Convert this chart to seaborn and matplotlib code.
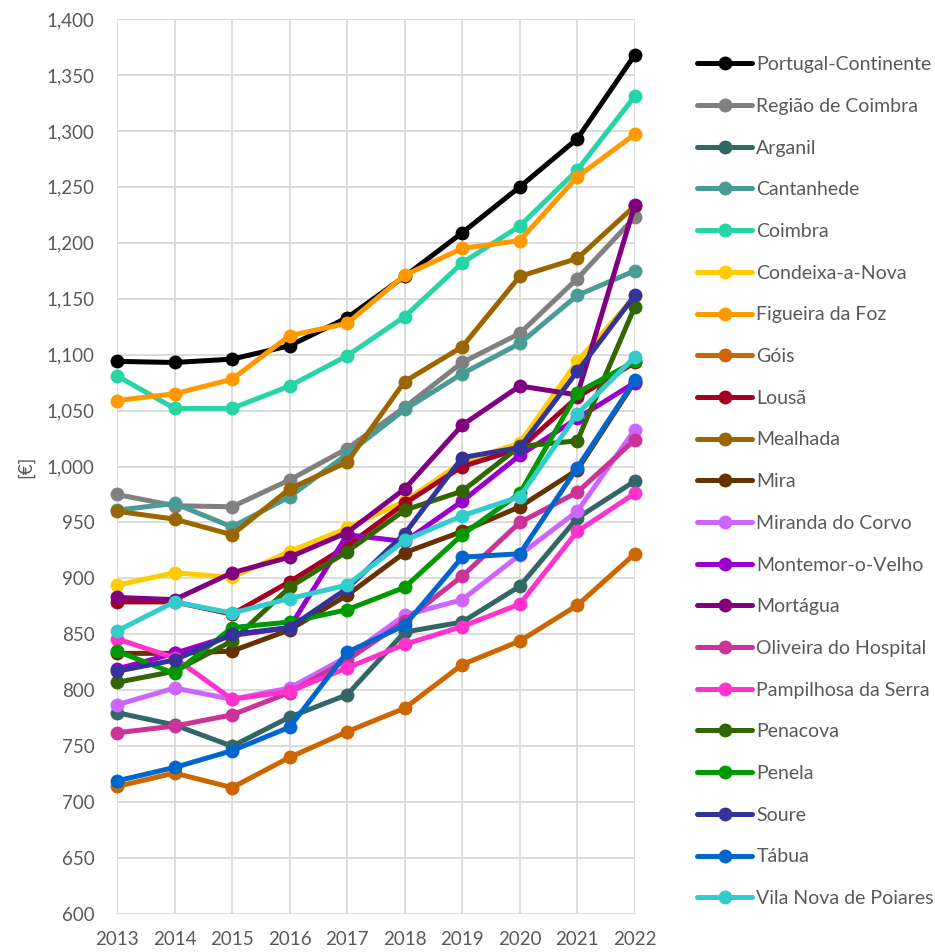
import pandas as pd
import numpy as np
import matplotlib.pyplot as plt
import seaborn as sns
from matplotlib.ticker import FuncFormatter

years = list(range(2013, 2023))

# valores (€)
portugal_continente = [1094, 1093, 1096, 1108, 1133, 1170, 1209, 1250, 1293, 1368]
regiao_coimbra = [975, 965, 964, 988, 1016, 1053, 1093, 1119, 1168, 1223]
arganil = [780, 769, 750, 776, 796, 852, 861, 893, 954, 987]
cantanhede = [961, 967, 946, 973, 1011, 1051, 1083, 1110, 1153, 1175]
coimbra = [1081, 1052, 1052, 1072, 1099, 1134, 1182, 1215, 1265, 1331]
condeixa = [894, 905, 901, 924, 945, 969, 1004, 1021, 1094, 1152]
figueira = [1059, 1065, 1078, 1117, 1128, 1171, 1195, 1202, 1259, 1297]
gois = [714, 726, 713, 740, 763, 784, 823, 844, 876, 922]
lousa = [879, 879, 868, 897, 929, 967, 1000, 1016, 1062, 1093]
mealhada = [960, 953, 939, 980, 1004, 1076, 1107, 1170, 1186, 1233]
mira = [833, 833, 835, 854, 885, 923, 942, 964, 997, 1076]
miranda = [787, 802, 792, 802, 830, 867, 881, 921, 960, 1033]
montemor = [819, 833, 849, 856, 939, 933, 969, 1010, 1043, 1075]
mortagua = [883, 881, 905, 919, 941, 980, 1037, 1072, 1064, 1234]
oliveira = [762, 768, 778, 798, 827, 862, 902, 950, 977, 1024]
pampilhosa = [846, 829, 792, 799, 820, 841, 857, 877, 942, 976]
penacova = [807, 817, 844, 892, 924, 961, 978, 1018, 1023, 1143]
penela = [835, 815, 856, 861, 872, 892, 939, 976, 1066, 1094]
soure = [817, 827, 850, 856, 891, 940, 1008, 1017, 1085, 1153]
tabua = [719, 731, 746, 767, 834, 858, 919, 922, 999, 1077]
poiares = [853, 879, 869, 882, 894, 934, 956, 973, 1047, 1098]

names = ['Portugal-Continente', 'Região de Coimbra', 'Arganil', 'Cantanhede', 'Coimbra',
         'Condeixa-a-Nova', 'Figueira da Foz', 'Góis', 'Lousã', 'Mealhada', 'Mira',
         'Miranda do Corvo', 'Montemor-o-Velho', 'Mortágua', 'Oliveira do Hospital',
         'Pampilhosa da Serra', 'Penacova', 'Penela', 'Soure', 'Tábua', 'Vila Nova de Poiares']
series = [portugal_continente, regiao_coimbra, arganil, cantanhede, coimbra, condeixa,
          figueira, gois, lousa, mealhada, mira, miranda, montemor, mortagua, oliveira,
          pampilhosa, penacova, penela, soure, tabua, poiares]
colors = ['#000000', '#808080', '#336666', '#4a9b96', '#27d4a6', '#ffcc00', '#ff9900',
          '#cc6600', '#a50021', '#996600', '#663300', '#cc66ff', '#9900cc', '#800080',
          '#cc3399', '#ff33cc', '#336600', '#009900', '#333399', '#0066cc', '#33cccc']

df = pd.DataFrame({
    'ano': years * len(names),
    'valor': [v for s in series for v in s],
    'concelho': [n for n in names for _ in years],
})

sns.set_style('whitegrid')
plt.rcParams['font.family'] = ['Lato', 'DejaVu Sans']

fig = plt.figure(figsize=(9.35, 9.52), dpi=100)
ax = fig.add_axes([0.1251, 0.0399, 0.679 - 0.1251, 0.980 - 0.0399])

sns.lineplot(data=df, x='ano', y='valor', hue='concelho', hue_order=names,
             palette=dict(zip(names, colors)), marker='o', markersize=10,
             markeredgewidth=0, linewidth=3.6, sort=False, legend=False, ax=ax)

for ln in ax.get_lines():
    ln.set_clip_on(False)

ax.set_xlim(2013, 2022)
ax.set_ylim(600, 1400)
ax.set_xticks(years)
ax.set_yticks(range(600, 1401, 50))
ax.yaxis.set_major_formatter(FuncFormatter(lambda v, p: f'{int(v):,}'))
ax.grid(True, color='#d9d9d9', linewidth=1.3)
for sp in ax.spines.values():
    sp.set_visible(False)
ax.tick_params(axis='both', length=0, labelsize=13.5, labelcolor='#595959')
ax.tick_params(axis='y', pad=16)
ax.tick_params(axis='x', pad=12)
ax.set_xlabel('')
ax.set_ylabel('[€]', fontsize=13.5, color='#595959', labelpad=9)

handles = ax.get_lines()[:len(names)]
fig.legend(handles, names, loc='upper left', bbox_to_anchor=(0.7455, 0.941),
           frameon=False, fontsize=14, labelcolor='#595959', handlelength=2.85,
           handletextpad=0.2, labelspacing=1.27, borderaxespad=0, borderpad=0)

fig.savefig('out.png', dpi=100)
